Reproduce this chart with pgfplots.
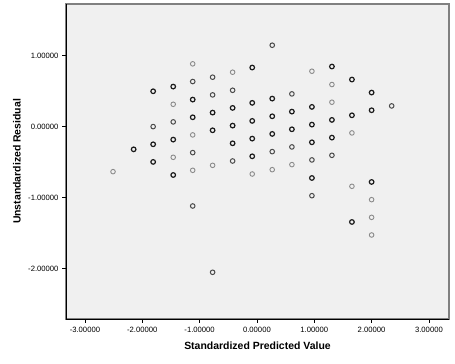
\documentclass[border=0pt]{standalone}
\usepackage{pgfplots}
\pgfplotsset{compat=1.18}
\usepackage{fontspec}
\setmainfont{Liberation Sans}
\definecolor{bg}{HTML}{F0F0F0}
\definecolor{frame}{HTML}{808080}
\definecolor{dark}{HTML}{1A1A1A}
\definecolor{mid}{HTML}{4A4A4A}
\definecolor{light}{HTML}{8A8A8A}
\begin{document}
\begin{tikzpicture}[x=1bp,y=1bp]
\begin{axis}[
  at={(66bp,45bp)}, anchor=south west,
  scale only axis, width=383bp, height=315bp,
  xmin=-3.33, xmax=3.35, ymin=-2.707, ymax=1.725,
  axis background/.style={fill=bg, draw=frame, line width=1.1pt},
  axis x line*=bottom, axis y line*=left,
  axis line style={black, -, line width=0.9pt},
  tick align=outside, major tick length=4bp,
  tick style={black, line width=0.7pt},
  xtick={-3,-2,-1,0,1,2,3},
  xticklabels={-3.00000,-2.00000,-1.00000,0.00000,1.00000,2.00000,3.00000},
  ytick={-2,-1,0,1},
  yticklabels={-2.00000,-1.00000,0.00000,1.00000},
  ticklabel style={font=\fontsize{7.7}{9}\selectfont},
  xticklabel style={yshift=-1bp},
  xlabel={Standardized Predicted Value},
  ylabel={Unstandardized Residual},
  every axis x label/.style={at={(axis description cs:0.5,0)}, anchor=center, yshift=-26.7bp, font=\fontsize{10.5}{12}\selectfont\bfseries},
  every axis y label/.style={at={(axis description cs:0,0.5)}, anchor=center, xshift=-49bp, rotate=90, font=\fontsize{10.5}{12}\selectfont\bfseries},
]
% dark points
\addplot[only marks, mark=o, mark size=2.3bp, mark options={draw=dark, line width=1.2pt}] coordinates {
(-2.15,-0.32) (-1.81,0.497) (-1.81,-0.249) (-1.81,-0.497)
(-1.46,0.563) (-1.46,-0.183) (-1.46,-0.681)
(-1.12,0.380) (-1.12,0.131)
(-0.773,0.197) (-0.773,-0.052)
(-0.424,0.263) (-0.424,0.014) (-0.424,-0.235)
(-0.082,0.831) (-0.082,0.334) (-0.082,0.080) (-0.082,-0.169) (-0.082,-0.418)
(0.267,0.394) (0.267,0.145) (0.267,-0.103)
(0.610,0.211) (0.610,-0.038)
(0.959,0.277) (0.959,0.028) (0.959,-0.221) (0.959,-0.723)
(1.308,0.845) (1.308,0.094) (1.308,-0.155)
(1.657,0.662) (1.657,0.159) (1.657,-1.342)
(2.00,0.479) (2.00,0.230) (2.00,-0.779)
};
% medium points
\addplot[only marks, mark=o, mark size=2.3bp, mark options={draw=mid, line width=1.0pt}] coordinates {
(-1.81,0.0) (-1.46,0.066)
(-1.12,0.634) (-1.12,-0.366) (-1.12,-1.117)
(-0.773,0.695) (-0.773,0.446) (-0.773,-2.05)
(-0.424,0.511) (-0.424,-0.484)
(0.267,1.145) (0.267,-0.352)
(0.610,0.460) (0.610,-0.286)
(0.959,-0.469) (0.959,-0.972)
(1.308,-0.404)
(2.35,0.291)
};
% light points
\addplot[only marks, mark=o, mark size=2.3bp, mark options={draw=light, line width=0.9pt}] coordinates {
(-2.51,-0.634)
(-1.46,0.314) (-1.46,-0.432)
(-1.12,0.883) (-1.12,-0.117) (-1.12,-0.615)
(-0.773,-0.545)
(-0.424,0.765)
(-0.082,-0.667)
(0.267,-0.606)
(0.610,-0.535)
(0.959,0.779)
(1.308,0.592) (1.308,0.343)
(1.657,-0.089) (1.657,-0.84)
(2.00,-1.028) (2.00,-1.277) (2.00,-1.525)
};
\end{axis}
\pgfresetboundingbox
\useasboundingbox (0,0) rectangle (455bp,364bp);
\end{tikzpicture}
\end{document}
